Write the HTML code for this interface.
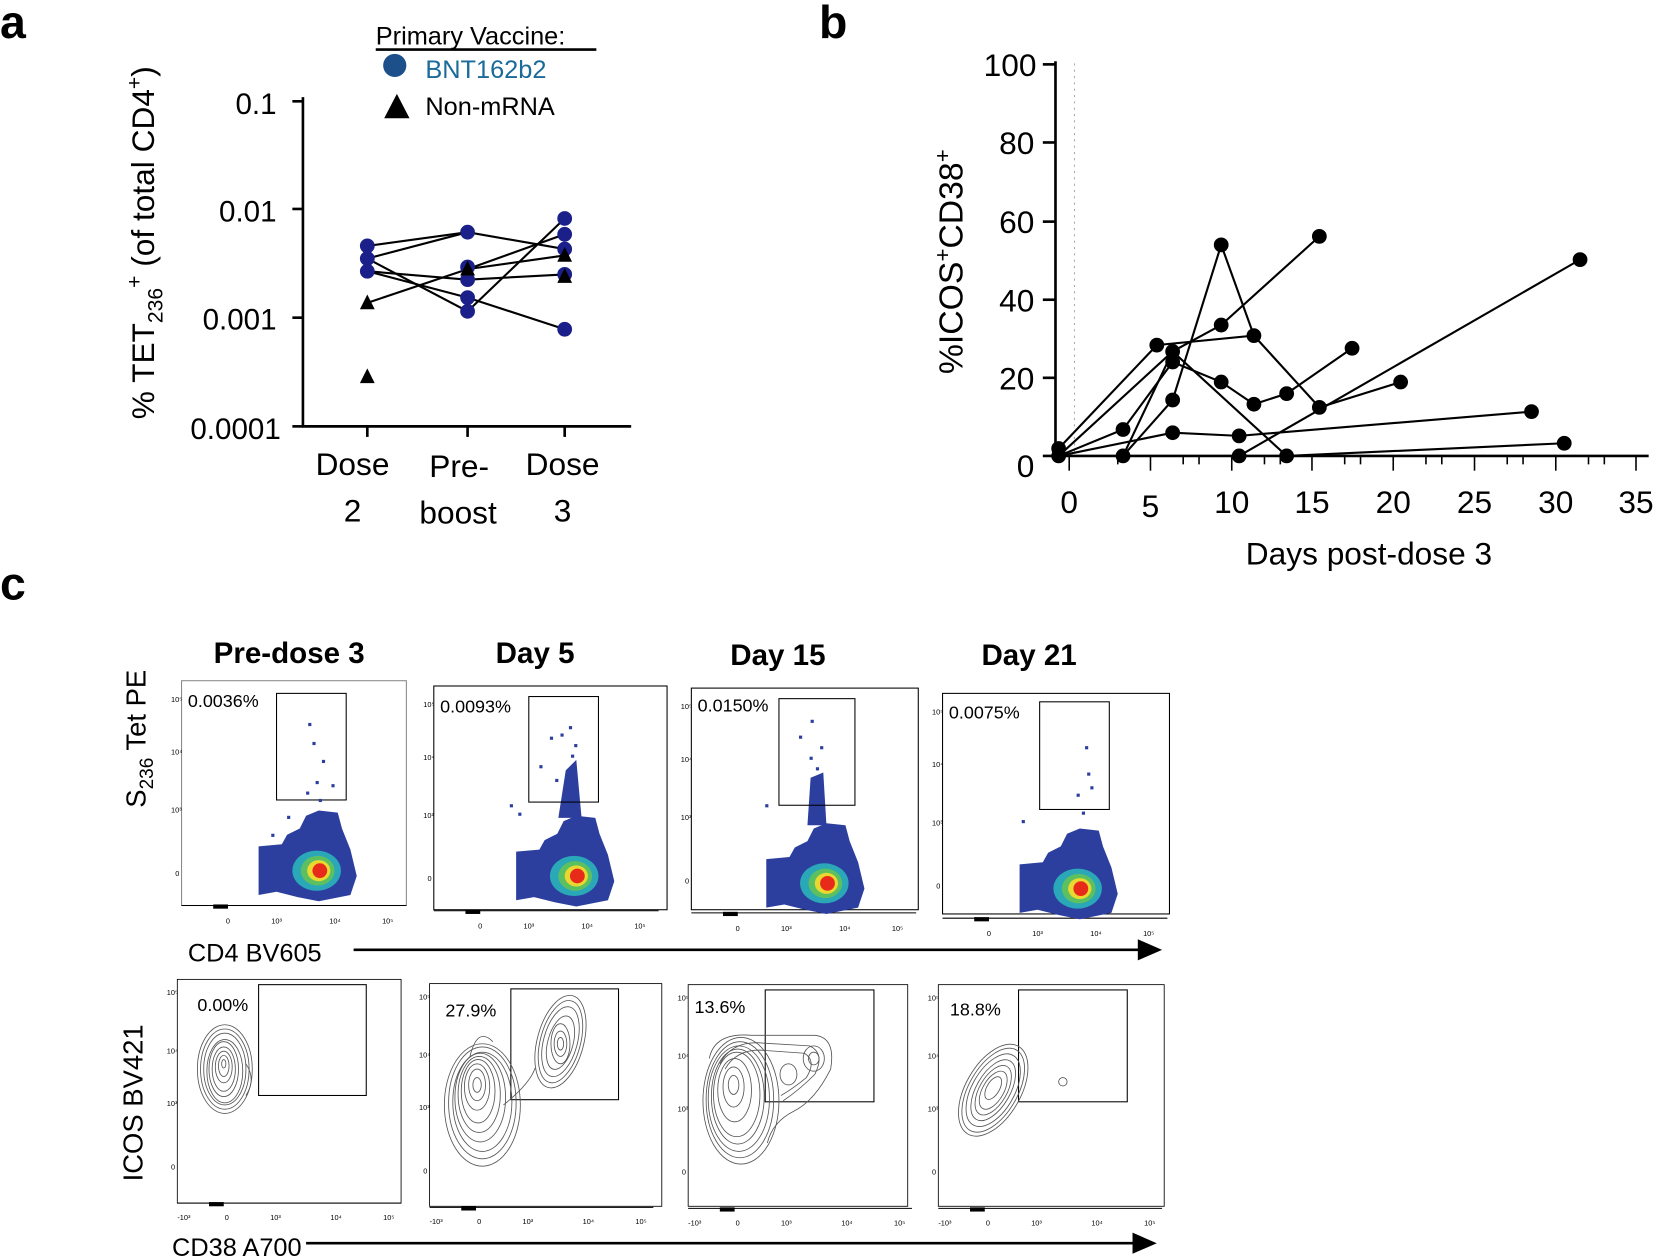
<!DOCTYPE html>
<html><head><meta charset="utf-8"><style>
html,body{margin:0;padding:0;background:#fff;}
svg{display:block;}
text{font-family:"Liberation Sans",Arial,sans-serif;}
</style></head><body>
<svg width="1655" height="1258" viewBox="0 0 1568 1192" preserveAspectRatio="none" xmlns="http://www.w3.org/2000/svg">
<defs>
<g id="blob">
  <path d="M73,157 L95,155 L100,146 L112,140 L118,128 L130,123 L148,125 L152,140 L160,160 L166,185 L160,203 L130,209 L110,205 L90,200 L73,203 Z" fill="#2c3f9e"/>
  <ellipse cx="128" cy="180" rx="23" ry="19" fill="#2aa8b8"/>
  <ellipse cx="129" cy="180" rx="16" ry="14" fill="#5cc060"/>
  <ellipse cx="130" cy="180" rx="11" ry="10" fill="#e8d830"/>
  <ellipse cx="131" cy="180" rx="7" ry="7" fill="#e82a1a"/>
</g>
<g id="fticks" font-size="7" fill="#000">
  <line x1="0" y1="213" x2="213" y2="213" stroke="#000" stroke-width="1"/>
  <rect x="30" y="212" width="14" height="4" fill="#000"/>
  <text x="-10" y="20">10⁵</text><text x="-10" y="70">10⁴</text><text x="-10" y="125">10³</text><text x="-6" y="185">0</text>
  <text x="42" y="230">0</text><text x="85" y="230">10³</text><text x="140" y="230">10⁴</text><text x="190" y="230">10⁵</text>
</g>
<g id="fticks2" font-size="7" fill="#000">
  <line x1="0" y1="212" x2="212" y2="212" stroke="#000" stroke-width="1"/>
  <rect x="30" y="211" width="14" height="4" fill="#000"/>
  <text x="-10" y="15">10⁵</text><text x="-10" y="70">10⁴</text><text x="-10" y="120">10³</text><text x="-6" y="180">0</text>
  <text x="0" y="228">-10³</text><text x="45" y="228">0</text><text x="88" y="228">10³</text><text x="145" y="228">10⁴</text><text x="195" y="228">10⁵</text>
</g>
</defs>

<!-- Panel a -->
<text x="0" y="36" font-size="44" font-weight="bold">a</text>
<text transform="translate(146,230) rotate(-90)" text-anchor="middle" font-size="30">% TET<tspan font-size="20" dy="8">236</tspan><tspan font-size="20" dy="-20">+</tspan><tspan dy="12"> (of total CD4</tspan><tspan font-size="20" dy="-12">+</tspan><tspan dy="12">)</tspan></text>
<g stroke="#000" stroke-width="2.5" fill="none">
<line x1="287" y1="92" x2="287" y2="405"/>
<line x1="286" y1="404" x2="598" y2="404"/>
<line x1="277" y1="96" x2="287" y2="96"/><line x1="277" y1="198" x2="287" y2="198"/><line x1="277" y1="301" x2="287" y2="301"/><line x1="277" y1="404" x2="287" y2="404"/>
<line x1="348" y1="404" x2="348" y2="414"/><line x1="443" y1="404" x2="443" y2="414"/><line x1="535" y1="404" x2="535" y2="414"/>
</g>
<g font-size="28" text-anchor="end">
<text x="262" y="108">0.1</text><text x="262" y="210">0.01</text><text x="262" y="312">0.001</text><text x="266" y="416">0.0001</text>
</g>
<g font-size="30" text-anchor="middle">
<text x="334" y="450">Dose</text><text x="334" y="494">2</text>
<text x="435" y="452">Pre-</text><text x="434" y="496">boost</text>
<text x="533" y="450">Dose</text><text x="533" y="494">3</text>
</g>
<g font-size="24">
<text x="356" y="42">Primary Vaccine:</text>
<line x1="356" y1="47" x2="565" y2="47" stroke="#000" stroke-width="2.5"/>
<circle cx="374" cy="62" r="11" fill="#1d4f8a"/>
<text x="403" y="74" fill="#1a6a9a">BNT162b2</text>
<polygon points="376,89 364,112 388,112" fill="#000"/>
<text x="403" y="109">Non-mRNA</text>
</g>
<g stroke="#000" stroke-width="2" fill="none">
<polyline points="348,233 443,220 535,236"/>
<polyline points="348,245 443,220"/>
<polyline points="348,245 443,295 535,207"/>
<polyline points="348,257 443,265 535,260"/>
<polyline points="348,257 443,282 535,312"/>
<polyline points="348,287 443,255 535,242"/>
<polyline points="443,255 535,222"/>
</g>
<g fill="#1a1f8a">
<circle cx="348" cy="233" r="7"/><circle cx="348" cy="245" r="7"/><circle cx="348" cy="257" r="7"/>
<circle cx="443" cy="220" r="7"/><circle cx="443" cy="253" r="7"/><circle cx="443" cy="265" r="7"/><circle cx="443" cy="282" r="7"/><circle cx="443" cy="295" r="7"/>
<circle cx="535" cy="207" r="7"/><circle cx="535" cy="222" r="7"/><circle cx="535" cy="236" r="7"/><circle cx="535" cy="260" r="7"/><circle cx="535" cy="312" r="7"/>
</g>
<g fill="#000">
<polygon points="348,279 341,293 355,293"/><polygon points="348,349 341,363 355,363"/>
<polygon points="443,247 436,261 450,261"/>
<polygon points="535,234 528,248 542,248"/><polygon points="535,254 528,268 542,268"/>
</g>

<!-- Panel b -->
<text x="776" y="36" font-size="44" font-weight="bold">b</text>
<text transform="translate(912,248) rotate(-90)" text-anchor="middle" font-size="32">%ICOS<tspan font-size="21" dy="-12">+</tspan><tspan dy="12">CD38</tspan><tspan font-size="21" dy="-12">+</tspan></text>
<line x1="1018" y1="60" x2="1018" y2="432" stroke="#aaa" stroke-width="1" stroke-dasharray="2,4"/>
<g stroke="#000" stroke-width="2.5" fill="none">
<line x1="1000" y1="58" x2="1000" y2="433"/>
<line x1="999" y1="432" x2="1562" y2="432"/>
<line x1="988" y1="61" x2="1000" y2="61"/><line x1="988" y1="135" x2="1000" y2="135"/><line x1="988" y1="210" x2="1000" y2="210"/><line x1="988" y1="284" x2="1000" y2="284"/><line x1="988" y1="358" x2="1000" y2="358"/><line x1="988" y1="432" x2="1000" y2="432"/>
</g>
<g stroke="#000" stroke-width="1.5">
<line x1="1013" y1="432" x2="1013" y2="446"/><line x1="1059" y1="432" x2="1059" y2="440"/><line x1="1090" y1="432" x2="1090" y2="446"/><line x1="1121" y1="432" x2="1121" y2="440"/><line x1="1136" y1="432" x2="1136" y2="440"/><line x1="1167" y1="432" x2="1167" y2="446"/><line x1="1198" y1="432" x2="1198" y2="440"/><line x1="1213" y1="432" x2="1213" y2="440"/><line x1="1243" y1="432" x2="1243" y2="446"/><line x1="1274" y1="432" x2="1274" y2="440"/><line x1="1289" y1="432" x2="1289" y2="440"/><line x1="1320" y1="432" x2="1320" y2="446"/><line x1="1351" y1="432" x2="1351" y2="440"/><line x1="1366" y1="432" x2="1366" y2="440"/><line x1="1397" y1="432" x2="1397" y2="446"/><line x1="1428" y1="432" x2="1428" y2="440"/><line x1="1443" y1="432" x2="1443" y2="440"/><line x1="1474" y1="432" x2="1474" y2="446"/><line x1="1505" y1="432" x2="1505" y2="440"/><line x1="1520" y1="432" x2="1520" y2="440"/><line x1="1550" y1="432" x2="1550" y2="446"/>
</g>
<g font-size="30" text-anchor="end">
<text x="982" y="72">100</text><text x="980" y="146">80</text><text x="980" y="221">60</text><text x="980" y="295">40</text><text x="980" y="369">20</text><text x="980" y="452">0</text>
</g>
<g font-size="30" text-anchor="middle">
<text x="1013" y="486">0</text><text x="1090" y="490">5</text><text x="1167" y="486">10</text><text x="1243" y="486">15</text><text x="1320" y="486">20</text><text x="1397" y="486">25</text><text x="1474" y="486">30</text><text x="1550" y="486">35</text>
<text x="1297" y="535">Days post-dose 3</text>
</g>
<g stroke="#000" stroke-width="2" fill="none">
<polyline points="1003,425 1096,327 1188,318 1250,386 1327,362"/>
<polyline points="1003,432 1111,410 1174,413 1451,390"/>
<polyline points="1003,432 1064,407 1111,343 1157,362 1188,383 1219,373 1281,330"/>
<polyline points="1003,432 1111,333 1219,432 1482,420"/>
<polyline points="1064,432 1111,379 1157,232 1188,318"/>
<polyline points="1064,432 1111,333 1157,308 1250,224"/>
<polyline points="1174,432 1497,246"/>
</g>
<g fill="#000">
<circle cx="1003" cy="425" r="7"/><circle cx="1003" cy="432" r="7"/><circle cx="1064" cy="407" r="7"/><circle cx="1064" cy="432" r="7"/><circle cx="1096" cy="327" r="7"/><circle cx="1111" cy="333" r="7"/><circle cx="1111" cy="343" r="7"/><circle cx="1111" cy="379" r="7"/><circle cx="1111" cy="410" r="7"/><circle cx="1157" cy="232" r="7"/><circle cx="1157" cy="308" r="7"/><circle cx="1157" cy="362" r="7"/><circle cx="1174" cy="413" r="7"/><circle cx="1174" cy="432" r="7"/><circle cx="1188" cy="318" r="7"/><circle cx="1188" cy="383" r="7"/><circle cx="1219" cy="373" r="7"/><circle cx="1219" cy="432" r="7"/><circle cx="1250" cy="224" r="7"/><circle cx="1250" cy="386" r="7"/><circle cx="1281" cy="330" r="7"/><circle cx="1327" cy="362" r="7"/><circle cx="1451" cy="390" r="7"/><circle cx="1482" cy="420" r="7"/><circle cx="1497" cy="246" r="7"/>
</g>

<!-- Panel c -->
<text x="0" y="568" font-size="44" font-weight="bold">c</text>
<g font-size="28" font-weight="bold" text-anchor="middle">
<text x="274" y="628">Pre-dose 3</text><text x="507" y="628">Day 5</text><text x="737" y="630">Day 15</text><text x="975" y="630">Day 21</text>
</g>
<text transform="translate(138,700) rotate(-90)" text-anchor="middle" font-size="26">S<tspan font-size="18" dy="7">236</tspan><tspan dy="-7"> Tet PE</tspan></text>
<text transform="translate(135,1045) rotate(-90)" text-anchor="middle" font-size="26">ICOS BV421</text>

<!-- top row -->
<g transform="translate(172,645)">
<rect x="0" y="0" width="213" height="213" fill="none" stroke="#888" stroke-width="1"/>
<use href="#fticks"/><use href="#blob"/>
<rect x="90" y="12" width="66" height="101" fill="none" stroke="#000" stroke-width="1"/>
<g fill="#2c3f9e"><rect x="120" y="40" width="3" height="3"/><rect x="124" y="58" width="3" height="3"/><rect x="133" y="75" width="3" height="3"/><rect x="127" y="95" width="3" height="3"/><rect x="142" y="98" width="3" height="3"/><rect x="118" y="105" width="3" height="3"/><rect x="130" y="112" width="3" height="3"/><rect x="100" y="128" width="3" height="3"/><rect x="85" y="145" width="3" height="3"/></g>
<text x="6" y="25" font-size="17">0.0036%</text>
</g>
<g transform="translate(411,650)">
<rect x="0" y="0" width="221" height="212" fill="none" stroke="#000" stroke-width="1"/>
<use href="#fticks"/><use href="#blob" transform="translate(5,0)"/>
<path d="M118,125 L125,80 L135,70 L140,125 Z" fill="#2c3f9e"/>
<rect x="90" y="10" width="66" height="100" fill="none" stroke="#000" stroke-width="1"/>
<g fill="#2c3f9e"><rect x="110" y="48" width="3" height="3"/><rect x="128" y="38" width="3" height="3"/><rect x="120" y="45" width="3" height="3"/><rect x="133" y="55" width="3" height="3"/><rect x="130" y="65" width="3" height="3"/><rect x="100" y="75" width="3" height="3"/><rect x="115" y="88" width="3" height="3"/><rect x="80" y="120" width="3" height="3"/><rect x="72" y="112" width="3" height="3"/></g>
<text x="6" y="25" font-size="17">0.0093%</text>
</g>
<g transform="translate(655,652)">
<rect x="0" y="0" width="215" height="210" fill="none" stroke="#000" stroke-width="1"/>
<use href="#fticks"/><use href="#blob" transform="translate(-2,5)"/>
<path d="M110,130 L113,85 L125,80 L128,130 Z" fill="#2c3f9e"/>
<rect x="83" y="10" width="72" height="101" fill="none" stroke="#000" stroke-width="1"/>
<g fill="#2c3f9e"><rect x="113" y="30" width="3" height="3"/><rect x="102" y="45" width="3" height="3"/><rect x="122" y="55" width="3" height="3"/><rect x="112" y="65" width="3" height="3"/><rect x="118" y="75" width="3" height="3"/><rect x="70" y="110" width="3" height="3"/></g>
<text x="6" y="22" font-size="17">0.0150%</text>
</g>
<g transform="translate(893,657)">
<rect x="0" y="0" width="215" height="209" fill="none" stroke="#000" stroke-width="1"/>
<use href="#fticks"/><use href="#blob" transform="translate(0,5)"/>
<rect x="92" y="8" width="66" height="102" fill="none" stroke="#000" stroke-width="1"/>
<g fill="#2c3f9e"><rect x="135" y="50" width="3" height="3"/><rect x="137" y="75" width="3" height="3"/><rect x="127" y="95" width="3" height="3"/><rect x="140" y="88" width="3" height="3"/><rect x="132" y="112" width="3" height="3"/><rect x="75" y="120" width="3" height="3"/></g>
<text x="6" y="24" font-size="17">0.0075%</text>
</g>
<text x="178" y="911" font-size="24">CD4 BV605</text>
<line x1="335" y1="900" x2="1080" y2="900" stroke="#000" stroke-width="2.5"/>
<polygon points="1078,890 1101,900 1078,910" fill="#000"/>

<!-- bottom row -->
<g fill="none" stroke="#555" stroke-width="0.8">
<g transform="translate(168,928)">
<rect x="0" y="0" width="212" height="212" stroke="#000"/>
<use href="#fticks2" stroke="none"/>
<rect x="77" y="5" width="102" height="105" stroke="#000" stroke-width="1"/>
<ellipse cx="45" cy="85" rx="26" ry="42"/><ellipse cx="45" cy="85" rx="23" ry="38"/><ellipse cx="45" cy="85" rx="20" ry="34"/><ellipse cx="45" cy="87" rx="17" ry="30"/><ellipse cx="44" cy="85" rx="14" ry="26"/><ellipse cx="44" cy="85" rx="11" ry="21"/><ellipse cx="44" cy="83" rx="8" ry="15"/><ellipse cx="44" cy="82" rx="5" ry="10"/><ellipse cx="44" cy="80" rx="2" ry="4"/>
<path d="M65,80 Q75,95 65,110"/>
</g>
<g transform="translate(407,932)">
<rect x="0" y="0" width="220" height="211" stroke="#000"/>
<use href="#fticks2" stroke="none"/>
<rect x="77" y="5" width="102" height="105" stroke="#000" stroke-width="1"/>
<ellipse cx="50" cy="115" rx="36" ry="58"/><ellipse cx="50" cy="113" rx="32" ry="53"/><ellipse cx="50" cy="112" rx="28" ry="47"/><ellipse cx="48" cy="108" rx="24" ry="42"/><ellipse cx="47" cy="105" rx="20" ry="36"/><ellipse cx="46" cy="102" rx="16" ry="30"/><ellipse cx="45" cy="98" rx="12" ry="22"/><ellipse cx="45" cy="96" rx="8" ry="15"/><ellipse cx="45" cy="96" rx="4" ry="7"/>
<ellipse cx="124" cy="55" rx="22" ry="45" transform="rotate(15 124 55)"/><ellipse cx="124" cy="55" rx="19" ry="40" transform="rotate(15 124 55)"/><ellipse cx="124" cy="55" rx="16" ry="34" transform="rotate(15 124 55)"/><ellipse cx="124" cy="56" rx="12" ry="26" transform="rotate(15 124 56)"/><ellipse cx="124" cy="57" rx="9" ry="19"/><ellipse cx="124" cy="57" rx="6" ry="12"/><ellipse cx="124" cy="57" rx="3" ry="6"/>
<path d="M70,115 Q95,95 100,80"/><path d="M38,70 Q45,40 60,55"/>
</g>
<g transform="translate(652,933)">
<rect x="0" y="0" width="208" height="210" stroke="#000"/>
<use href="#fticks2" stroke="none"/>
<rect x="73" y="5" width="103" height="106" stroke="#000" stroke-width="1"/>
<ellipse cx="50" cy="110" rx="36" ry="60"/><ellipse cx="49" cy="109" rx="32" ry="55"/><ellipse cx="48" cy="108" rx="29" ry="50"/><ellipse cx="47" cy="106" rx="25" ry="45"/><ellipse cx="46" cy="104" rx="22" ry="40"/><ellipse cx="44" cy="100" rx="16" ry="30"/><ellipse cx="43" cy="97" rx="10" ry="19"/><ellipse cx="43" cy="95" rx="5" ry="9"/>
<path d="M20,70 Q25,45 60,48 L120,48 Q140,50 135,80 Q120,110 100,120 Q80,130 75,150"/>
<path d="M30,75 Q40,55 65,55 L115,58 Q130,65 120,85 Q105,100 90,110"/>
<path d="M35,80 Q45,62 68,62 L110,65 Q122,72 112,88 Q100,98 88,105"/>
<ellipse cx="119" cy="70" rx="10" ry="12"/><ellipse cx="119" cy="70" rx="5" ry="6"/><ellipse cx="95" cy="85" rx="8" ry="10"/>
</g>
<g transform="translate(889,933)">
<rect x="0" y="0" width="214" height="210" stroke="#000"/>
<use href="#fticks2" stroke="none"/>
<rect x="76" y="5" width="103" height="106" stroke="#000" stroke-width="1"/>
<ellipse cx="52" cy="100" rx="26" ry="48" transform="rotate(30 52 100)"/><ellipse cx="52" cy="100" rx="23" ry="44" transform="rotate(30 52 100)"/><ellipse cx="52" cy="100" rx="20" ry="38" transform="rotate(30 52 100)"/><ellipse cx="52" cy="100" rx="16" ry="32" transform="rotate(30 52 100)"/><ellipse cx="52" cy="100" rx="13" ry="26" transform="rotate(30 52 100)"/><ellipse cx="52" cy="100" rx="10" ry="20" transform="rotate(30 52 100)"/><ellipse cx="52" cy="98" rx="6" ry="12" transform="rotate(30 52 98)"/>
<circle cx="118" cy="92" r="4"/>
</g>
</g>
<g font-size="17">
<text x="187" y="958">0.00%</text><text x="422" y="963">27.9%</text><text x="658" y="960">13.6%</text><text x="900" y="962">18.8%</text>
</g>
<text x="163" y="1190" font-size="24">CD38 A700</text>
<line x1="290" y1="1178" x2="1075" y2="1178" stroke="#000" stroke-width="2.5"/>
<polygon points="1073,1168 1096,1178 1073,1188" fill="#000"/>
</svg>
</body></html>
